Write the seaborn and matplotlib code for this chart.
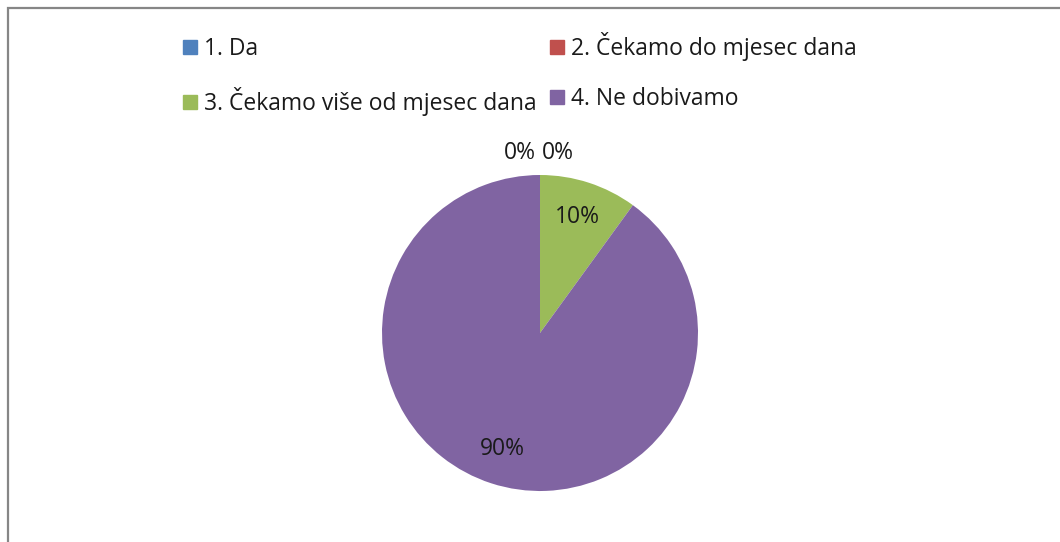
import matplotlib
matplotlib.use('Agg')
import matplotlib.pyplot as plt
import seaborn as sns
from matplotlib.lines import Line2D
from matplotlib.patches import Rectangle

# data
categories = ['1. Da', '2. Čekamo do mjesec dana',
              '3. Čekamo više od mjesec dana', '4. Ne dobivamo']
values = [0, 0, 10, 90]
colors = ['#4F81BD', '#C0504D', '#9BBB59', '#8064A2']

sns.set_theme(style='white')
plt.rcParams['font.family'] = ['Open Sans', 'DejaVu Sans']

W, H = 1060, 542
fig = plt.figure(figsize=(W / 100, H / 100), dpi=100)
fig.patch.set_facecolor('white')

# chart frame (left + top edge visible)
frame = Rectangle((8 / W, -0.2), 1.2, (H - 8) / H + 0.2,
                  transform=fig.transFigure, fill=False,
                  edgecolor='#868686', linewidth=1.6)
fig.patches.append(frame)

# pie: centre (540, 333) px, radius 158 px, limits +-1.25
cx, cy, r = 540, 333, 158
half = r * 1.25
ax = fig.add_axes([(cx - half) / W, (H - cy - half) / H, 2 * half / W, 2 * half / H])
wedges, texts, autotexts = ax.pie(values, colors=colors, startangle=90,
                                  counterclock=False, autopct='%1.0f%%',
                                  pctdistance=0.77,
                                  wedgeprops={'linewidth': 0},
                                  textprops={'fontsize': 16.5, 'color': '#1a1a1a'})
ax.set_xlim(-1.25, 1.25)
ax.set_ylim(-1.25, 1.25)

# zero slices get their labels above the pie, side by side
zero_idx = [i for i, v in enumerate(values) if v == 0]
offsets = [-0.125, 0.115]
for k, i in enumerate(zero_idx):
    autotexts[i].set_position((offsets[k], 1.14))

# legend filled row by row (matplotlib fills column by column)
order = [0, 2, 1, 3]
handles = [Line2D([], [], marker='s', linestyle='none', markersize=10,
                  markerfacecolor=colors[i], markeredgecolor=colors[i]) for i in order]
fig.legend(handles, [categories[i] for i in order], ncol=2, loc='upper left',
           bbox_to_anchor=(172 / W, 1 - 21 / H), frameon=False,
           fontsize=16.5, handlelength=0.6, handletextpad=0.3,
           columnspacing=0.58, labelspacing=1.1, borderpad=0,
           labelcolor='#1a1a1a')

plt.savefig('out.png', dpi=100)
